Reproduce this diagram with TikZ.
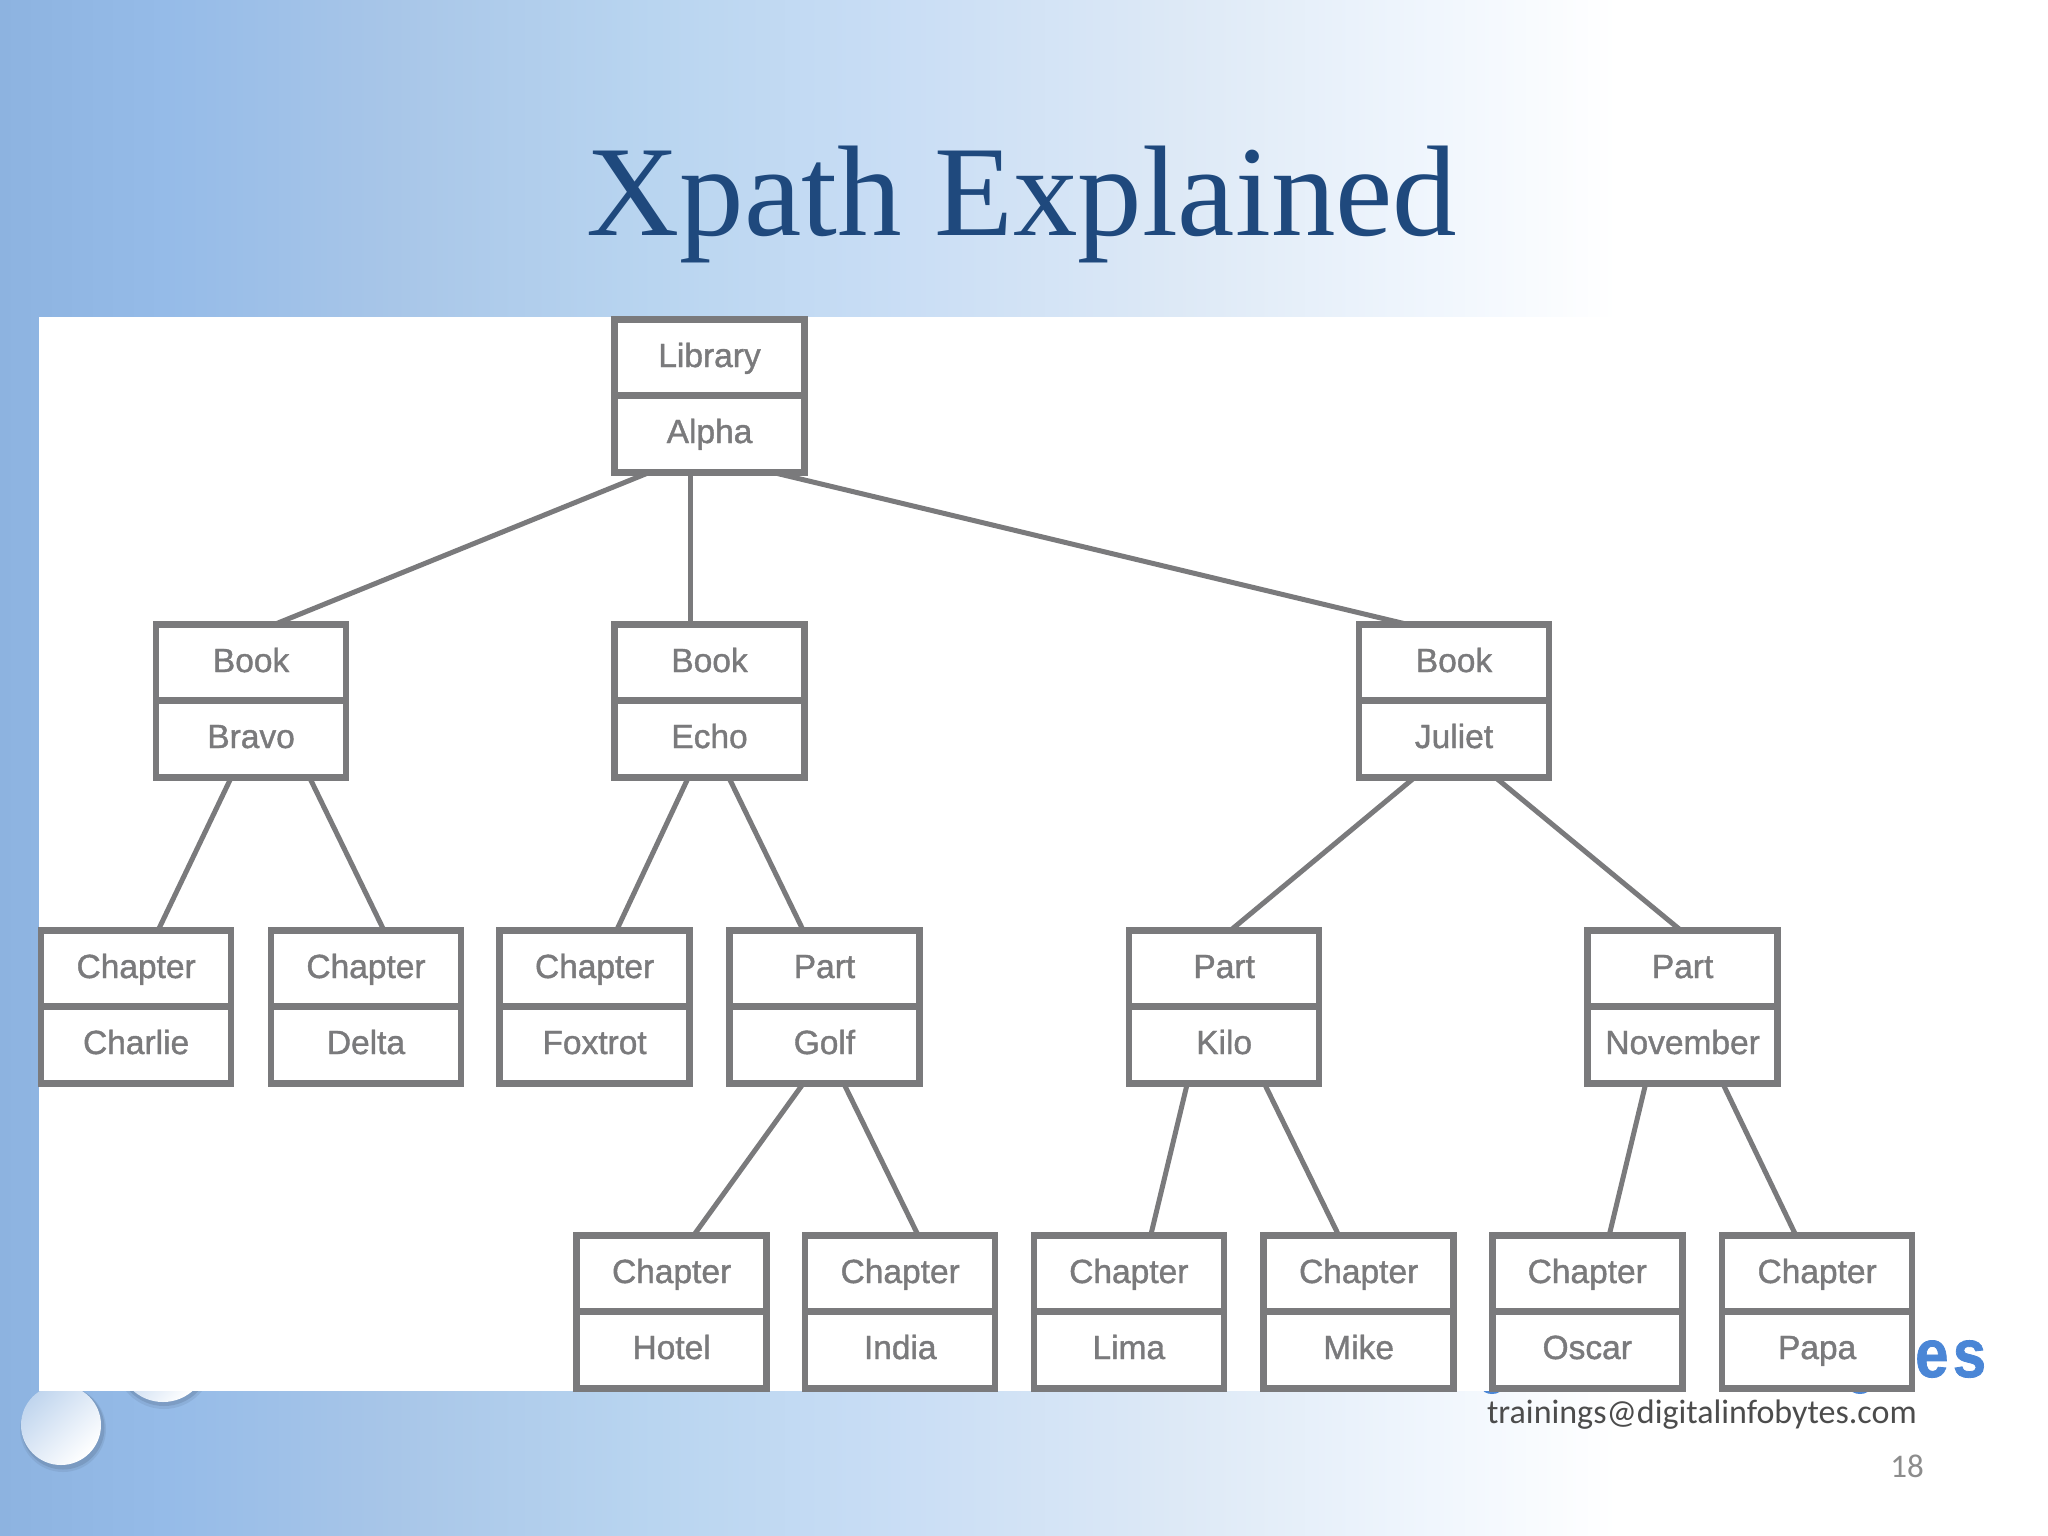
\documentclass[tikz,border=0pt]{standalone}
\usepackage{fontspec}
\setmainfont{Liberation Sans}
\newfontfamily\titlefont{Liberation Serif}
\newfontfamily\bodyfont{Carlito}
\newfontfamily\cellfont[FakeBold=1.2]{Liberation Sans}
\newfontfamily\logofont[FakeBold=1.2]{Liberation Sans Bold}
\definecolor{boxgray}{HTML}{7A7A7C}
\definecolor{titleblue}{HTML}{1F497D}
\definecolor{logoblue}{HTML}{4A86D6}
\definecolor{bgA}{HTML}{8DB3E0}
\definecolor{bgAb}{HTML}{95BBE8}
\definecolor{bgB}{HTML}{A8C6E8}
\definecolor{bgC}{HTML}{B9D5F0}
\definecolor{bgD}{HTML}{CADEF5}
\definecolor{bgE}{HTML}{DDE9F6}
\definecolor{bgF}{HTML}{F0F6FD}
\pgfdeclarehorizontalshading{slidebg}{100bp}{
  color(0bp)=(bgA); color(25bp)=(bgA); color(29bp)=(bgAb); color(34.6bp)=(bgB); color(41bp)=(bgC);
  color(47.3bp)=(bgD); color(53.7bp)=(bgE); color(60bp)=(bgF); color(64.5bp)=(white); color(100bp)=(white)}
\tikzset{
  x=1pt,y=-1pt,
  cell/.style={draw=boxgray,line width=6.5pt,fill=white,minimum width=190pt,minimum height=77pt,
    inner sep=0pt,outer sep=0pt,text=boxgray,font=\cellfont\fontsize{33.5}{33.5}\selectfont,text height=24pt,text depth=0pt},
  link/.style={draw=boxgray,line width=5pt},
}
\newcommand{\cellbox}[5]{%
  \node[cell] (#1t) at ({#2*1.30612-1},{#3-38}) {\raisebox{3pt}{#4}};
  \node[cell] (#1b) at ({#2*1.30612-1},{#3+38}) {\raisebox{3pt}{#5}};}
\newcommand{\lnk}[4]{\draw[link] ([xshift=#2*1.30612pt+1pt]#1b.south) -- ([xshift=#4*1.30612pt+1pt]#3t.north);}
\begin{document}
\begin{tikzpicture}
\useasboundingbox (0,0) rectangle (2048,1536);
\fill[shading=slidebg] (0,0) rectangle (2048,1536);
% beads
\fill[black!30!bgA,opacity=.2] (164,1360) circle (49);
\fill[black!30!bgA,opacity=.35] (164,1359) circle (47);
\fill[black!30!bgA,opacity=.2] (63,1429) circle (43);
\fill[black!30!bgA,opacity=.35] (63,1428) circle (41.5);
\shade[left color=bgA!80!white,right color=white,shading angle=45] (163,1357) circle (45);
\shade[left color=bgA!55!white,right color=white,shading angle=45] (61,1425) circle (40);
% logo remnant
\node[font=\logofont\fontsize{68}{68}\selectfont,text=logoblue,xscale=.88,anchor=base west,inner sep=0pt,transform shape] (logo) at (1915,1377) {e\kern5pt s};
\fill[logoblue] (1492,1388) ellipse (10 and 6);
\fill[logoblue] (1860,1388) ellipse (10 and 6);
% picture
\fill[white] (39,317) rectangle (1914,1391);
% title
\node[font=\titlefont\fontsize{129}{129}\selectfont,text=titleblue,anchor=base,inner sep=0pt] (title) at (1022,235) {Xpath Explained};
% connectors
\cellbox{lib}{544}{396}{Library}{Alpha}
\cellbox{bra}{193}{701}{Book}{Bravo}
\cellbox{ech}{544}{701}{Book}{Echo}
\cellbox{jul}{1114}{701}{Book}{Juliet}
\cellbox{cha}{105}{1007}{Chapter}{Charlie}
\cellbox{del}{281}{1007}{Chapter}{Delta}
\cellbox{fox}{456}{1007}{Chapter}{Foxtrot}
\cellbox{gol}{632}{1007}{Part}{Golf}
\cellbox{kil}{938}{1007}{Part}{Kilo}
\cellbox{nov}{1289}{1007}{Part}{November}
\cellbox{hot}{515}{1312}{Chapter}{Hotel}
\cellbox{ind}{690}{1312}{Chapter}{India}
\cellbox{lim}{865}{1312}{Chapter}{Lima}
\cellbox{mik}{1041}{1312}{Chapter}{Mike}
\cellbox{osc}{1216}{1312}{Chapter}{Oscar}
\cellbox{pap}{1392}{1312}{Chapter}{Papa}
\lnk{lib}{-47}{bra}{17}
\lnk{lib}{-15}{ech}{-15}
\lnk{lib}{48}{jul}{-36}
\lnk{bra}{-16}{cha}{16}
\lnk{bra}{44}{del}{13}
\lnk{ech}{-17}{fox}{16}
\lnk{ech}{14}{gol}{-17}
\lnk{jul}{-31}{kil}{4}
\lnk{jul}{31}{nov}{-2}
\lnk{gol}{-17}{hot}{16}
\lnk{gol}{14}{ind}{13}
\lnk{kil}{-29}{lim}{16}
\lnk{kil}{30}{mik}{-16}
\lnk{nov}{-29}{osc}{16}
\lnk{nov}{30}{pap}{-17}
% footer
\node[font=\bodyfont\fontsize{34}{34}\selectfont,text=black!70,anchor=base east,inner sep=0pt] (mail) at (1917,1423) {trainings@digitalinfobytes.com};
\node[font=\bodyfont\fontsize{33}{33}\selectfont,text=black!45,anchor=base,inner sep=0pt] (num) at (1907,1477) {18};
\end{tikzpicture}
\end{document}
